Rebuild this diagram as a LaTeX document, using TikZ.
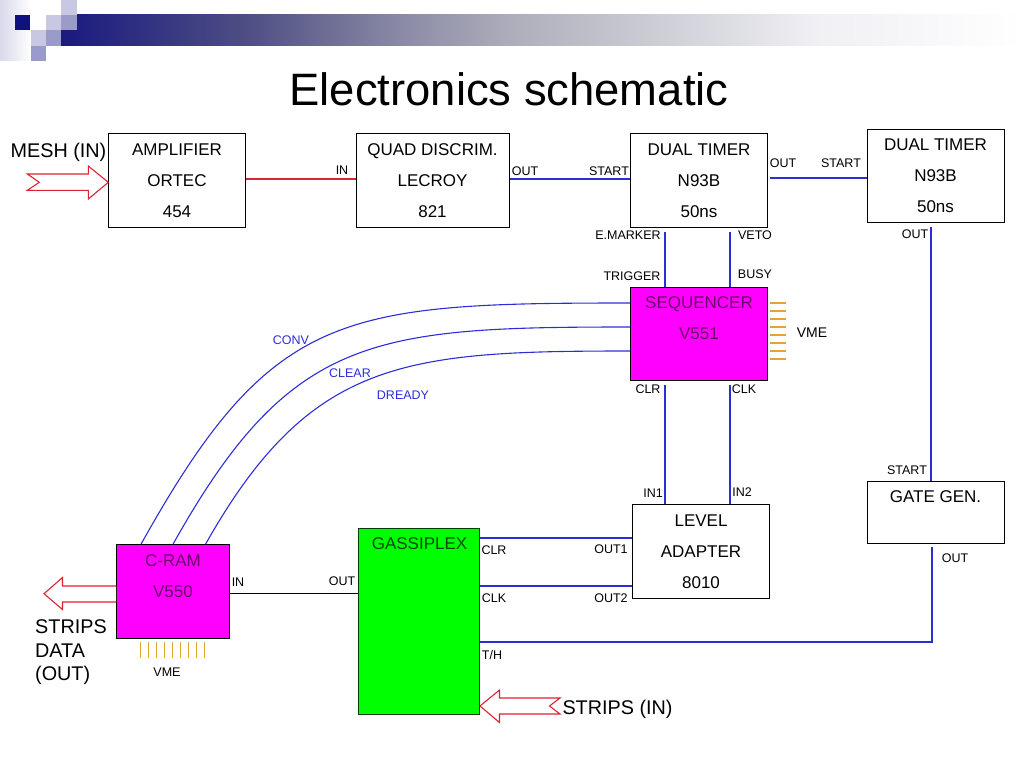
\documentclass[tikz,border=0pt]{standalone}
\usepackage{fontspec}
\setmainfont{Liberation Sans}
\usetikzlibrary{arrows}
\definecolor{navy}{RGB}{16,16,127}
\definecolor{pale}{RGB}{200,200,226}
\definecolor{mid}{RGB}{154,154,203}
\definecolor{wire}{RGB}{45,45,215}
\definecolor{tick}{RGB}{225,165,50}
\definecolor{inred}{RGB}{221,34,51}
\definecolor{mag}{RGB}{255,0,255}
\definecolor{magtext}{RGB}{105,0,105}
\definecolor{grn}{RGB}{0,255,0}
\definecolor{grntext}{RGB}{0,75,0}
\pgfdeclarehorizontalshading{bannerfade}{100bp}{rgb(0bp)=(.10,.10,.50);rgb(25bp)=(.10,.10,.50);rgb(34.8bp)=(.31,.31,.52);rgb(42.6bp)=(.54,.54,.65);rgb(48.8bp)=(.69,.69,.74);rgb(58.2bp)=(.84,.84,.87);rgb(64.4bp)=(.94,.94,.96);rgb(75bp)=(1,1,1);rgb(100bp)=(1,1,1)}
\tikzset{
	box/.style={draw=black,line width=1pt,inner sep=0pt,align=center,font=\fontsize{17}{31}\selectfont},
	sig/.style={font=\fontsize{12.5}{14}\selectfont,inner sep=0pt},
	blu/.style={sig,text=wire},
	big/.style={font=\fontsize{19.8}{24}\selectfont,inner sep=0pt,align=left},
	wr/.style={draw=wire,line width=1.2pt},
	thin wr/.style={draw=wire,line width=1.1pt},
	redarrow/.style={draw=inred,line width=1.1pt,fill=white},
}
\begin{document}
\begin{tikzpicture}[x=1pt,y=-1pt]
	\useasboundingbox (0,0) rectangle (1024,768);
	% banner
	\shade[left color=pale!70,right color=white] (0,0) rectangle (31,60);
	\shade[shading=bannerfade] (61,15) rectangle (1024,46);
	\fill[navy] (15,15) rectangle (30,30);
	\fill[pale] (46,15) rectangle (61,30);
	\fill[pale] (61,0) rectangle (77,15);
	\fill[mid] (61,15) rectangle (77,30);
	\fill[pale] (31,30) rectangle (46,46);
	\fill[mid] (46,30) rectangle (61,46);
	\fill[mid] (31,46) rectangle (46,61);
	\node[font=\fontsize{45.4}{50}\selectfont,inner sep=0pt] (title) at (509,89) {Electronics schematic};

	% modules
	\node[box,minimum width=137pt,minimum height=94pt] (amp) at (177,180.5) {AMPLIFIER\\ORTEC\\454};
	\node[box,minimum width=153pt,minimum height=94pt] (quad) at (432.5,180.5) {QUAD DISCRIM.\\LECROY\\821};
	\node[box,minimum width=137pt,minimum height=94pt] (timera) at (699,180.5) {DUAL TIMER\\N93B\\50ns};
	\node[box,minimum width=137pt,minimum height=93pt] (timerb) at (935.5,176) {DUAL TIMER\\N93B\\50ns};
	\node[box,minimum width=137pt,minimum height=93pt,fill=mag,text=magtext] (seq) at (699,334) {SEQUENCER\\V551\\\mbox{}};
	\node[box,minimum width=137pt,minimum height=94pt] (level) at (701,551.5) {LEVEL\\ADAPTER\\8010};
	\node[box,minimum width=137pt,minimum height=62.5pt] (gate) at (935.5,512.5) {GATE GEN.\\\mbox{}};
	\node[box,minimum width=113.5pt,minimum height=93.5pt,fill=mag,text=magtext] (cram) at (173,591.5) {C-RAM\\V550\\\mbox{}};
	\node[box,minimum width=121.5pt,minimum height=185.5pt,fill=grn,draw=black!75!grn] (gass) at (419.2,621.7) {};
	\node[font=\fontsize{17}{20}\selectfont,text=grntext,inner sep=0pt] (gasstext) at (419.5,544) {GASSIPLEX};

	% connectors
	\draw[draw=inred,line width=1.2pt] ([yshift=1.5pt]amp.east) -- ([yshift=1.5pt]quad.west);
	\draw[wr] ([yshift=1.5pt]quad.east) -- ([yshift=1.5pt]timera.west);
	\draw[wr,shorten <=2pt] ([yshift=-2pt]timerb.west -| timera.east) -- ([yshift=-2pt]timerb.west);
	\draw[wr,shorten <=4pt] ([xshift=-34pt]timera.south) -- ([xshift=-34pt]seq.north);
	\draw[wr,shorten <=4pt] ([xshift=31pt]timera.south) -- ([xshift=31pt]seq.north);
	\draw[wr,shorten <=4pt] ([xshift=-34pt]seq.south) -- ([xshift=-36pt]level.north);
	\draw[wr,shorten <=4pt] ([xshift=31pt]seq.south) -- ([xshift=29pt]level.north);
	\draw[wr,shorten <=4pt] ([xshift=-4.5pt]timerb.south) -- ([xshift=-4.5pt]gate.north);
	\draw[thin wr] (seq.west |- 0,303) .. controls (340,303) and (271,311) .. ([xshift=-32pt]cram.north);
	\draw[thin wr] (seq.west |- 0,327) .. controls (372,327) and (290,335) .. (cram.north);
	\draw[thin wr] (seq.west |- 0,351) .. controls (404,351) and (310,359) .. ([xshift=32.5pt]cram.north);
	\draw[wr] (gass.east |- 0,538) -- (level.west |- 0,538);
	\draw[wr] (gass.east |- 0,586) -- (level.west |- 0,586);
	\draw[wr,shorten >=2.5pt] (gass.east |- 0,642) -| ([xshift=-3.5pt]gate.south);
	\draw[line width=.9pt] (cram.east |- 0,593.5) -- (gass.west |- 0,593.5);

	% vme ticks
	\foreach \i in {0,...,7}
		\draw[tick,line width=1.1pt] (770,303+8*\i) -- (786,303+8*\i);
	\foreach \i in {0,...,8}
		\draw[tick,line width=1.1pt] (140.5+8.05*\i,642) -- (140.5+8.05*\i,657.5);

	% big arrows
	\draw[redarrow] (27.3,174) -- (39.3,182.3) -- (27.3,190.3) -- (88.3,190.3) -- (88.3,199) -- (108.3,182.3) -- (88.3,166) -- (88.3,174) -- cycle;
	\draw[redarrow] (560,698) -- (549.5,706) -- (560,714) -- (499.5,714) -- (499.5,722.5) -- (480,706) -- (499.5,690) -- (499.5,698) -- cycle;
	\draw[redarrow] (116,586) -- (62.5,586) -- (62.5,577.5) -- (44,593.7) -- (62.5,609.5) -- (62.5,602) -- (116,602);

	% large labels
	\node[big] (meshin) at (58.5,152) {MESH (IN)};
	\node[big] (stripsin) at (617.5,709.5) {STRIPS (IN)};
	\node[big,anchor=west] (stripsa) at (35,627) {STRIPS};
	\node[big,anchor=west] (stripsb) at (35,651) {DATA};
	\node[big,anchor=west] (stripsc) at (35,675) {(OUT)};

	% signal labels
	\node[sig] (l1) at (342,170) {IN};
	\node[sig] (l2) at (525,171) {OUT};
	\node[sig] (l3) at (609,171) {START};
	\node[sig] (l4) at (783,163) {OUT};
	\node[sig] (l5) at (841,163) {START};
	\node[sig] (l6) at (915,234) {OUT};
	\node[sig] (l7) at (628,235) {E.MARKER};
	\node[sig] (l8) at (755,235) {VETO};
	\node[sig] (l9) at (632,276) {TRIGGER};
	\node[sig] (l10) at (755,274) {BUSY};
	\node[sig] (l11) at (648,389) {CLR};
	\node[sig] (l12) at (744,389) {CLK};
	\node[sig] (l13) at (653,493) {IN1};
	\node[sig] (l14) at (742,492) {IN2};
	\node[sig] (l15) at (907,470) {START};
	\node[sig] (l16) at (955,558) {OUT};
	\node[sig] (l17) at (494,550) {CLR};
	\node[sig] (l18) at (611,549) {OUT1};
	\node[sig] (l19) at (494,598) {CLK};
	\node[sig] (l20) at (611,598) {OUT2};
	\node[sig] (l21) at (492,655) {T/H};
	\node[sig] (l22) at (238,582) {IN};
	\node[sig] (l23) at (342,581) {OUT};
	\node[sig] (l24) at (167,672) {VME};
	\node[sig,font=\fontsize{14}{16}\selectfont] (l25) at (812,333) {VME};
	\node[blu] (conv) at (291,340) {CONV};
	\node[blu] (clear) at (350,373) {CLEAR};
	\node[blu] (dready) at (403,395) {DREADY};
\end{tikzpicture}
\end{document}
